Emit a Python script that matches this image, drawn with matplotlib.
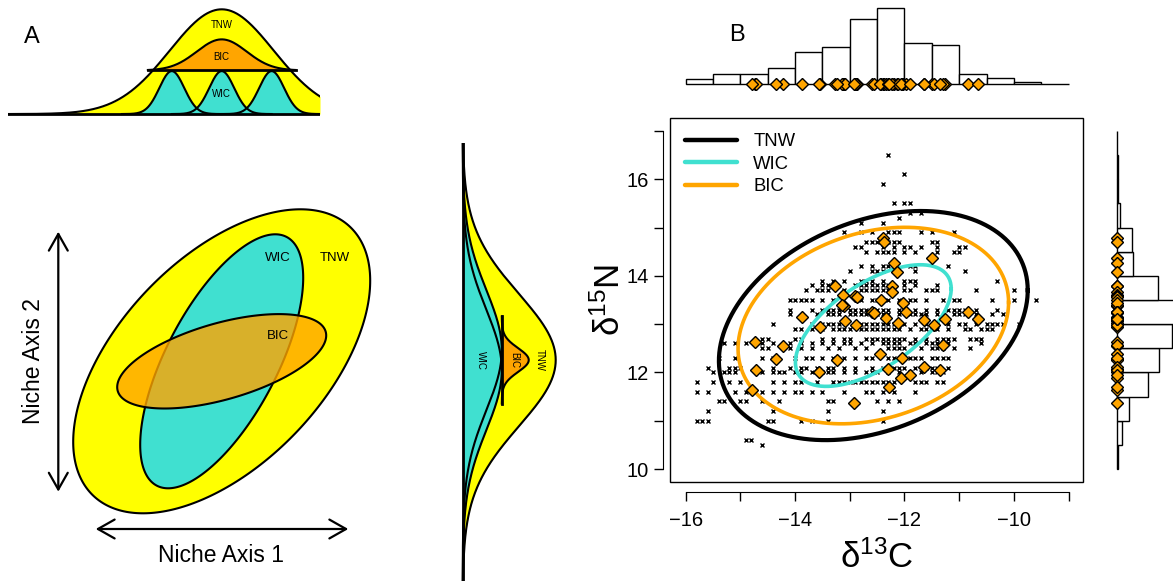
import numpy as np
import matplotlib
matplotlib.use('Agg')
import matplotlib.pyplot as plt
from matplotlib.lines import Line2D
from matplotlib.patches import Rectangle, Polygon

plt.rcParams['font.family'] = ['Liberation Sans', 'DejaVu Sans']
plt.rcParams['mathtext.default'] = 'regular'

# ---------------- data ----------------
# panel A: conceptual niche distributions (units of TNW sd)
tnw_1d_height = 1.0
wic_top_means = [-0.96, 0.0, 0.96]
wic_top_sd = 0.24
wic_top_height = 0.41
bic_top_sd = 0.48
bic_top_base = 0.417
bic_top_height = 0.296
bic_top_halfspan = 1.42

wic_side_means = [0.15, -0.15]
wic_side_sd = 0.91
wic_side_height = 0.42
bic_side_sd = 0.18
bic_side_base = 0.42
bic_side_height = 0.29
bic_side_halfspan = 0.66

# panel A ellipses: sd (axis1, axis2), correlation
ell_names = ['TNW', 'WIC', 'BIC']
ellA_sd = [(2.97, 3.04), (1.63, 2.54), (2.09, 0.944)]
ellA_rho = [0.53, 0.657, 0.547]

# panel B: isotope data, individuals (x) grouped by d15N level
n15_levels = [16.5, 16.1, 15.9, 15.5, 15.3, 15.2, 15.1, 14.9, 14.7, 14.6, 14.5, 14.2, 14.1,
              13.9, 13.8, 13.7, 13.5, 13.3, 13.2, 13.0, 12.9, 12.7, 12.6, 12.5, 12.3, 12.1,
              12.0, 11.8, 11.6, 11.4, 11.2, 11.0, 10.6, 10.5]
c13_rows = [
    [-12.3],
    [-12.0],
    [-12.4],
    [-12.2, -12.0, -11.9],
    [-11.9, -11.7],
    [-12.1],
    [-12.4, -12.8],
    [-13.1, -12.8, -12.6, -12.3, -12.2, -12.1, -11.7, -11.5, -11.1],
    [-12.7, -12.6, -12.5, -12.3, -12.2, -12.1, -11.5, -11.4],
    [-12.9, -12.8, -12.4, -12.2, -12.0, -11.9, -11.7, -11.4, -11.0, -10.9],
    [-12.7, -12.5, -12.4, -12.3, -12.2, -12.0, -11.8, -11.4, -11.1, -11.0],
    [-12.8, -12.6, -12.4, -12.3, -11.9, -11.8, -11.2],
    [-13.0, -12.6, -12.5, -12.4, -11.8, -10.9],
    [-13.5, -13.3, -13.1, -12.8, -12.7, -12.6, -12.4, -12.0, -11.9, -11.8, -10.3],
    [-13.7, -13.5, -13.4, -13.3, -12.9, -12.8, -12.7, -12.6, -12.5, -12.4, -12.3, -12.0, -11.8, -11.4],
    [-13.8, -13.6, -13.5, -13.4, -13.1, -12.8, -12.7, -12.6, -12.5, -12.4, -12.3, -12.0, -11.9,
     -11.6, -11.5, -11.4, -10.7, -10.0],
    [-14.1, -14.0, -13.9, -13.8, -13.7, -13.5, -13.3, -12.8, -12.6, -12.5, -12.3, -12.1, -11.9,
     -11.8, -11.6, -11.3, -11.1, -11.0, -10.4, -10.0, -9.6],
    [-14.1, -13.7, -13.5, -13.4, -13.3, -13.2, -13.0, -12.9, -12.8, -12.7, -12.6, -12.5, -12.4,
     -12.3, -12.1, -12.0, -11.8, -11.6, -11.4, -11.2, -11.1, -11.0, -10.9, -10.7, -10.3],
    [-14.1, -13.6, -13.4, -13.3, -13.2, -13.0, -12.9, -12.8, -12.7, -12.6, -12.5, -12.4, -12.3,
     -12.1, -11.9, -11.8, -11.7, -11.6, -11.4, -11.1, -11.0, -10.9, -10.7, -10.4, -10.2],
    [-14.4, -13.7, -13.5, -13.4, -13.3, -13.2, -12.9, -12.8, -12.7, -12.6, -12.5, -12.4, -12.3,
     -12.2, -12.1, -12.0, -11.8, -11.6, -11.4, -11.2, -11.0, -10.9, -10.7, -10.5, -10.4, -10.3,
     -10.2, -9.9],
    [-14.0, -13.9, -13.7, -13.5, -13.3, -13.2, -13.1, -13.0, -12.8, -12.7, -12.6, -12.5, -12.4,
     -12.3, -12.2, -12.1, -11.9, -11.7, -11.6, -11.5, -11.4, -11.2, -10.9, -10.8, -10.6, -10.5, -10.4],
    [-14.6, -14.5, -14.0, -13.9, -13.5, -13.3, -13.1, -13.0, -12.7, -12.6, -12.5, -12.4, -12.3,
     -12.2, -12.1, -12.0, -11.8, -11.6, -11.4, -11.3, -11.2, -11.1, -10.8, -10.7, -10.6],
    [-15.3, -15.1, -14.9, -14.6, -14.4, -14.1, -13.9, -13.7, -13.5, -13.3, -13.1, -13.0, -12.8,
     -12.6, -12.4, -12.3, -12.2, -12.1, -11.9, -11.8, -11.6, -11.5, -11.4, -11.2, -10.6],
    [-14.6, -14.5, -14.1, -13.9, -13.7, -13.4, -13.2, -12.9, -12.7, -12.3, -12.2, -12.1, -12.0,
     -11.7, -11.5, -11.4, -11.3, -11.1, -10.8],
    [-15.4, -15.1, -14.6, -14.4, -14.0, -13.8, -13.7, -13.5, -13.3, -13.1, -12.9, -12.7, -12.6,
     -12.3, -12.2, -12.0, -11.9, -11.8, -11.7, -11.5, -11.4, -11.3, -11.2],
    [-15.6, -15.2, -15.1, -15.0, -14.4, -14.1, -13.9, -13.8, -13.6, -13.4, -13.3, -13.1, -12.9,
     -12.6, -12.4, -12.2, -12.1, -12.0, -11.8, -11.6, -11.5, -11.4, -11.2],
    [-15.5, -15.3, -15.2, -15.1, -14.6, -14.4, -14.3, -14.2, -14.0, -13.9, -13.7, -13.5, -13.4,
     -13.3, -13.1, -12.9, -12.7, -12.6, -12.5, -12.3, -12.1, -11.9, -11.7, -11.5, -11.4, -11.3],
    [-15.8, -15.5, -15.2, -15.0, -14.4, -14.2, -14.0, -13.9, -13.6, -13.3, -13.2, -13.1, -13.0,
     -12.9, -12.8, -12.7, -12.6, -12.5, -12.4, -12.3, -12.2, -11.8, -11.7, -11.6, -11.4, -11.3],
    [-15.8, -15.6, -15.1, -14.9, -14.6, -14.4, -14.2, -14.0, -13.9, -13.7, -13.5, -13.1, -12.7,
     -12.6, -12.4, -12.2, -11.8],
    [-15.4, -15.3, -15.0, -14.9, -14.6, -14.3, -13.4, -13.3, -12.5, -12.3, -12.1],
    [-15.6, -14.4, -13.4, -12.4],
    [-15.8, -15.7, -15.6, -14.5, -14.4, -13.9, -13.7, -13.4, -12.4],
    [-14.9, -14.8],
    [-14.6],
]

# panel B: group means (diamonds)
mean_c13 = [-12.40, -12.37, -11.50, -12.19, -12.13, -13.27, -12.22, -12.22, -13.12, -12.91,
            -12.86, -12.43, -13.10, -13.15, -12.02, -13.87, -12.59, -12.56, -11.98, -13.54,
            -13.08, -12.88, -12.34, -12.12, -11.64, -11.46, -11.26, -10.84, -10.65, -14.73,
            -14.23, -11.30, -14.34, -13.23, -12.44, -12.04, -14.71, -13.57, -12.31, -11.64,
            -11.35, -12.06, -11.90, -14.79, -12.29, -12.93]
mean_n15 = [14.79, 14.70, 14.37, 14.27, 14.07, 13.79, 13.79, 13.67, 13.61, 13.58,
            13.57, 13.50, 13.37, 13.39, 13.43, 13.14, 13.26, 13.22, 13.26, 12.94,
            13.07, 12.98, 13.12, 13.03, 13.08, 12.98, 13.10, 13.26, 13.11, 12.62,
            12.54, 12.56, 12.27, 12.26, 12.39, 12.30, 12.05, 12.00, 12.07, 12.11,
            12.05, 11.88, 11.94, 11.63, 11.69, 11.37]

# panel B ellipses (TNW, WIC, BIC)
ellB_center = (-12.57, 12.97)
ellB_sd = [(2.823, 2.372), (1.424, 1.259), (2.473, 2.034)]
ellB_rho = [0.308, 0.605, 0.235]

# marginal histograms
c13_edges = np.arange(-16.0, -8.99, 0.5)
c13_counts = [6, 11, 11, 17, 34, 40, 70, 81, 44, 42, 11, 7, 2, 0]
n15_edges = np.arange(10.0, 17.01, 0.5)
n15_counts = [1, 5, 12, 31, 42, 55, 60, 41, 16, 15, 3, 1, 1, 0]

# ---------------- figure ----------------
W, H = 1173, 581
fig = plt.figure(figsize=(W / 100, H / 100), dpi=100)


def px_axes(x0, y0, x1, y1):
    return fig.add_axes([x0 / W, 1 - y1 / H, (x1 - x0) / W, (y1 - y0) / H])


def gauss(v, mu, sd, h):
    return h * np.exp(-0.5 * ((v - mu) / sd) ** 2)


def ellipse_xy(center, sd, rho, n=300):
    t = np.linspace(0, 2 * np.pi, n)
    cov = np.array([[sd[0] ** 2, rho * sd[0] * sd[1]], [rho * sd[0] * sd[1], sd[1] ** 2]])
    L = np.linalg.cholesky(cov)
    p = L @ np.vstack([np.cos(t), np.sin(t)])
    return p[0] + center[0], p[1] + center[1]


YEL, CYA, ORA = '#FFFF00', '#40E0D0', '#FFA500'

# ---- panel A: top 1-D curves
ax = px_axes(8, 0, 320, 120)
ax.set_xlim(-4.11, 1.89)
ax.set_ylim(-0.057, 1.089)
ax.axis('off')
xx = np.linspace(-4.11, 1.89, 800)
yt = gauss(xx, 0, 1, tnw_1d_height)
ax.fill_between(xx, 0, yt, color=YEL, lw=0)
ax.plot(xx, yt, color='black', lw=1.5)
for mu in wic_top_means:
    xw = np.linspace(mu - 4 * wic_top_sd, mu + 4 * wic_top_sd, 200)
    ax.fill_between(xw, 0, gauss(xw, mu, wic_top_sd, wic_top_height), color=CYA, lw=0)
for mu in wic_top_means:
    xw = np.linspace(mu - 4 * wic_top_sd, mu + 4 * wic_top_sd, 200)
    ax.plot(xw, gauss(xw, mu, wic_top_sd, wic_top_height), color='black', lw=1.5)
xb = np.linspace(-bic_top_halfspan, bic_top_halfspan, 300)
yb = bic_top_base + gauss(xb, 0, bic_top_sd, bic_top_height)
ax.fill_between(xb, bic_top_base, yb, color=ORA, lw=0)
ax.plot(xb, yb, color='black', lw=1.5)
ax.plot([-bic_top_halfspan, bic_top_halfspan], [bic_top_base, bic_top_base], color='black', lw=2)
ax.plot([-4.11, 1.89], [0, 0], color='black', lw=2)
ax.text(0, 0.85, 'TNW', ha='center', va='center', fontsize=7)
ax.text(0, 0.544, 'BIC', ha='center', va='center', fontsize=7)
ax.text(0, 0.19, 'WIC', ha='center', va='center', fontsize=7)

# ---- panel A: side 1-D curves
ax = px_axes(455, 143, 565, 581)
ax.set_xlim(-0.083, 1.1)
ax.set_ylim(-3.35, 3.29)
ax.axis('off')
yy = np.linspace(-3.35, 3.29, 800)
xt = gauss(yy, 0, 1, tnw_1d_height)
ax.fill_betweenx(yy, 0, xt, color=YEL, lw=0)
ax.plot(xt, yy, color='black', lw=1.5)
w1 = gauss(yy, wic_side_means[0], wic_side_sd, wic_side_height)
w2 = gauss(yy, wic_side_means[1], wic_side_sd, wic_side_height)
ax.fill_betweenx(yy, 0, np.maximum(w1, w2), color=CYA, lw=0)
ax.plot(w1, yy, color='black', lw=1.5)
ax.plot(w2, yy, color='black', lw=1.5)
yb = np.linspace(-bic_side_halfspan, bic_side_halfspan, 300)
xb = bic_side_base + gauss(yb, 0, bic_side_sd, bic_side_height)
ax.fill_betweenx(yb, bic_side_base, xb, color=ORA, lw=0)
ax.plot(xb, yb, color='black', lw=1.5)
ax.plot([bic_side_base, bic_side_base], [-bic_side_halfspan, bic_side_halfspan], color='black', lw=2)
ax.plot([0, 0], [-3.35, 3.29], color='black', lw=2)
ax.text(0.2, 0, 'WIC', rotation=-90, ha='center', va='center', fontsize=7)
ax.text(0.55, 0, 'BIC', rotation=-90, ha='center', va='center', fontsize=7)
ax.text(0.83, 0, 'TNW', rotation=-90, ha='center', va='center', fontsize=7)

# ---- panel A: ellipses
ax = px_axes(0, 130, 440, 581)
ax.set_xlim(-4.434, 4.366)
ax.set_ylim(-4.394, 4.626)
ax.axis('off')
fills = [YEL, CYA, (1.0, 0.647, 0.0, 0.8)]
for sd, rho, fc in zip(ellA_sd, ellA_rho, fills):
    ex, ey = ellipse_xy((0, 0), sd, rho)
    ax.add_patch(Polygon(np.column_stack([ex, ey]), closed=True, facecolor=fc,
                         edgecolor='black', lw=1.5))
ax.text(1.13, 2.06, 'WIC', ha='center', va='center', fontsize=9.5)
ax.text(2.27, 2.06, 'TNW', ha='center', va='center', fontsize=9.5)
ax.text(1.12, 0.51, 'BIC', ha='center', va='center', fontsize=9.5)
arw = dict(arrowstyle='<->,head_length=0.6,head_width=0.34', lw=1.6, color='black',
           mutation_scale=20, shrinkA=0, shrinkB=0)
ax.annotate('', xy=(-3.268, 2.592), xytext=(-3.268, -2.608), arrowprops=arw)
ax.annotate('', xy=(2.532, -3.354), xytext=(-2.52, -3.354), arrowprops=arw)
ax.text(-0.01, -3.89, 'Niche Axis 1', ha='center', va='center', fontsize=16.5)
ax.text(-3.77, 0.0, 'Niche Axis 2', rotation=90, ha='center', va='center', fontsize=16.5)

fig.text(32 / W, 1 - 37 / H, 'A', fontsize=17, ha='center', va='center')
fig.text(737 / W, 1 - 35 / H, 'B', fontsize=17, ha='center', va='center')

# ---- panel B: scatter
xlim_b = (-16.287, -8.731)
ylim_b = (9.725, 17.261)
ax = px_axes(670, 118.3, 1083.3, 482.3)
ax.set_xlim(*xlim_b)
ax.set_ylim(*ylim_b)
pts_x = [c for row in c13_rows for c in row]
pts_y = [lvl for lvl, row in zip(n15_levels, c13_rows) for _ in row]
ax.plot(pts_x, pts_y, 'x', color='black', ms=3.2, mew=1.0, zorder=2)
ell_cols = ['black', CYA, ORA]
ell_lw = [3.0, 2.6, 2.6]
for sd, rho, col, lw in zip(ellB_sd, ellB_rho, ell_cols, ell_lw):
    ex, ey = ellipse_xy(ellB_center, sd, rho)
    ax.plot(ex, ey, color=col, lw=lw, zorder=3)
ax.plot(mean_c13, mean_n15, 'D', mfc=ORA, mec='black', ms=6.5, mew=1.0, zorder=4)

ax.add_patch(Rectangle((0, 0), 1, 1, transform=ax.transAxes, fill=False, lw=1.0,
                       ec='black', clip_on=False, zorder=5))
for s in ['top', 'right']:
    ax.spines[s].set_visible(False)
ax.spines['left'].set_position(('outward', 5))
ax.spines['bottom'].set_position(('outward', 7))
ax.spines['left'].set_bounds(10, 17)
ax.spines['bottom'].set_bounds(-16, -9)
ax.set_xticks(np.arange(-16, -8.9, 1))
ax.set_xticklabels(['\u221216', '', '\u221214', '', '\u221212', '', '\u221210', ''])
ax.set_yticks(np.arange(10, 17.1, 1))
ax.set_yticklabels(['10', '', '12', '', '14', '', '16', ''])
ax.tick_params(length=6.5, width=1, labelsize=14.5)
ax.tick_params(axis='x', pad=7)
ax.tick_params(axis='y', pad=4)
ax.set_xlabel('\u03b4$^{13}$C', fontsize=25)
ax.xaxis.set_label_coords(0.5, (482.3 - 558) / 364)
ax.xaxis.label.set_va('center')
ax.set_ylabel('\u03b4$^{15}$N', fontsize=25)
ax.yaxis.set_label_coords((610 - 670) / 413.3, 0.5)
ax.yaxis.label.set_va('center')

handles = [Line2D([], [], color=c, lw=3.2, solid_capstyle='round') for c in ell_cols]
ax.legend(handles, ell_names, loc='upper left', frameon=False, fontsize=13.3,
          handlelength=2.8, handletextpad=0.9, labelspacing=0.3,
          borderaxespad=0.4, borderpad=0.4)

# ---- panel B: top histogram (d13C)
axh = px_axes(670, 0, 1083.3, 100)
axh.set_xlim(*xlim_b)
axh.set_ylim(-16.7, 89.9)
axh.axis('off')
axh.bar(c13_edges[:-1], c13_counts, width=0.5, align='edge', color='white',
        edgecolor='black', lw=1.0)
axh.plot(mean_c13, np.zeros(len(mean_c13)), 'D', mfc=ORA, mec='black', ms=6.0, mew=1.0,
         clip_on=False)

# ---- panel B: side histogram (d15N)
axv = px_axes(1105, 118.3, 1173, 482.3)
axv.set_ylim(*ylim_b)
axv.set_xlim(-12, 56)
axv.axis('off')
axv.barh(n15_edges[:-1], n15_counts, height=0.5, align='edge', color='white',
         edgecolor='black', lw=1.0)
axv.plot(np.zeros(len(mean_n15)), mean_n15, 'D', mfc=ORA, mec='black', ms=6.0, mew=1.0,
         clip_on=False)

fig.savefig('out.png', dpi=100)
